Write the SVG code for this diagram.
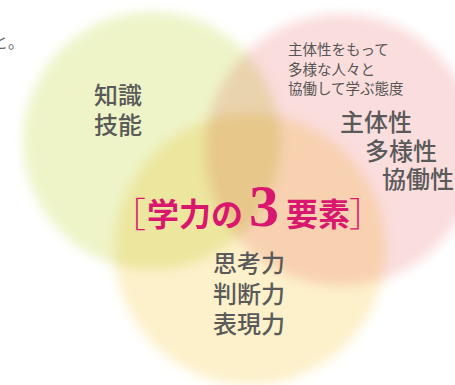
<svg xmlns="http://www.w3.org/2000/svg" width="455" height="385" viewBox="0 0 455 385">
<style>
.c{mix-blend-mode:multiply}
.lbl{font-family:"Noto Sans CJK JP","Noto Sans",sans-serif;fill:#5a5a5a}
.big{font-size:24px;font-weight:500}
.sm{font-size:14.5px;font-weight:400;fill:#555}
.ttl{font-family:"Noto Sans CJK JP",sans-serif;fill:#d9176f;font-weight:700;font-size:32px}
.br{font-family:"Noto Sans CJK JP",sans-serif;fill:#d9176f;font-weight:300;font-size:34px}
</style>
<defs>
<filter id="soft" x="-20%" y="-20%" width="140%" height="140%"><feGaussianBlur stdDeviation="6"/></filter>
</defs>
<rect width="455" height="385" fill="#fff"/>
<g id="circles" filter="url(#soft)">
<circle id="c-left" class="c" cx="152" cy="141" r="129" fill="#eef4c8"/>
<circle id="c-right" class="c" cx="341" cy="150" r="136" fill="#fadddd"/>
<circle id="c-bottom" class="c" cx="250" cy="249" r="136" fill="#fdf1cb"/>
</g>
<text class="lbl" x="-8" y="48" font-size="16" fill="#555">と。</text>
<g id="node-knowledge">
<text class="lbl big" x="94" y="104">知識</text>
<text class="lbl big" x="94" y="134">技能</text>
</g>
<g id="node-attitude">
<text class="lbl sm" x="288" y="55">主体性をもって</text>
<text class="lbl sm" x="288" y="75">多様な人々と</text>
<text class="lbl sm" x="288" y="94">協働して学ぶ態度</text>
<text class="lbl big" x="340" y="131">主体性</text>
<text class="lbl big" x="365" y="160">多様性</text>
<text class="lbl big" x="382" y="188">協働性</text>
</g>
<g id="node-thinking">
<text class="lbl big" x="213" y="272">思考力</text>
<text class="lbl big" x="213" y="303">判断力</text>
<text class="lbl big" x="213" y="333">表現力</text>
</g>
<g id="title">
<text class="br" x="112" y="227">［</text>
<text class="ttl" x="147" y="226">学力の</text>
<text x="249" y="226" font-family="'Liberation Serif',serif" font-weight="700" font-size="60" fill="#d9176f">3</text>
<text class="ttl" x="286" y="226">要素</text>
<text class="br" x="349" y="227">］</text>
</g>
</svg>
